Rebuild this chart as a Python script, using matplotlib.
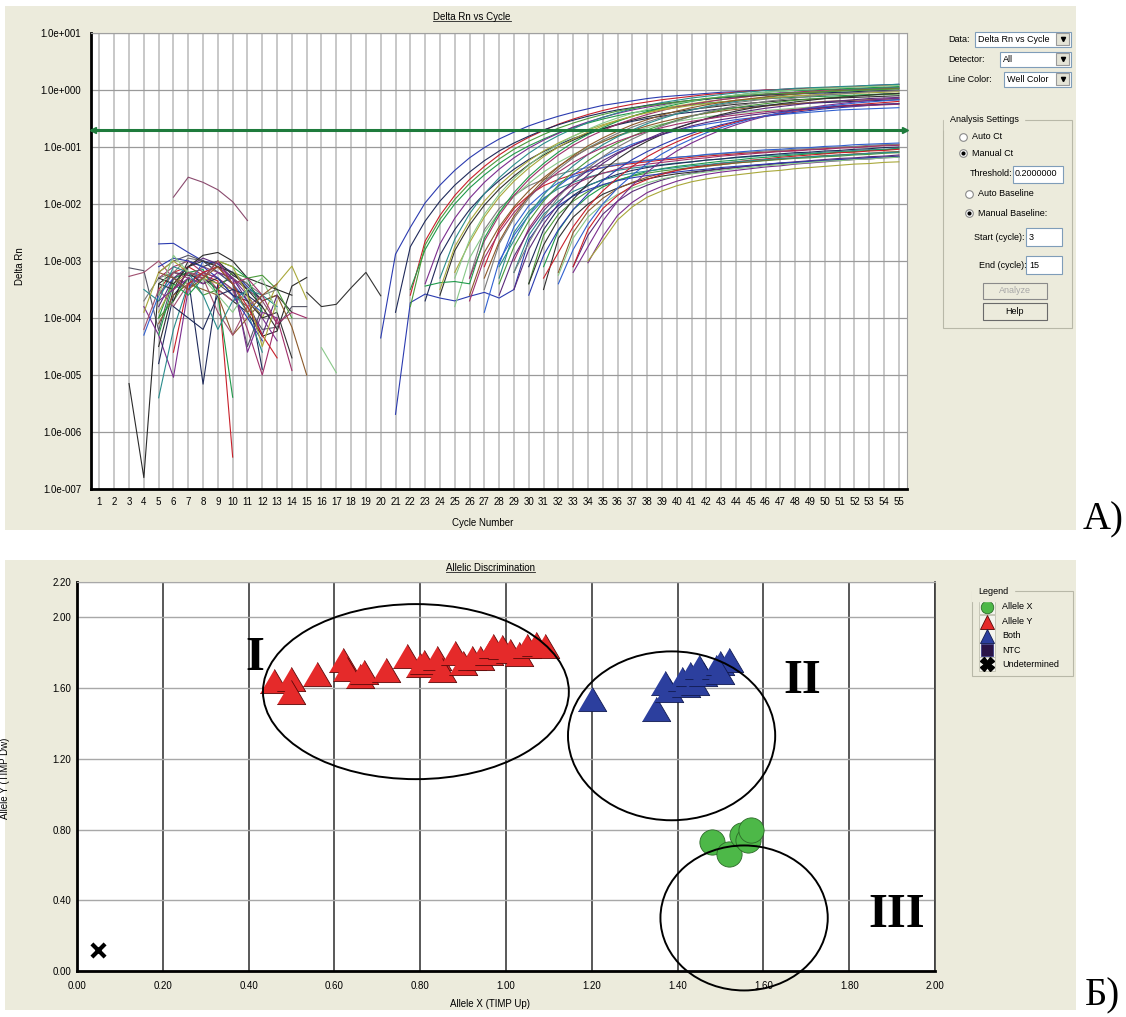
import numpy as np
import matplotlib.pyplot as plt
from matplotlib.patches import Rectangle, Ellipse
from matplotlib.lines import Line2D

plt.rcParams['font.family'] = ['Liberation Sans', 'DejaVu Sans']

W, H = 1126, 1017
BEIGE = '#ecebdc'

# ---------------- panel A: Delta Rn vs Cycle (values are log10 Delta Rn) ----------------
cycles = list(range(1, 56))
decades = [-7, -6, -5, -4, -3, -2, -1, 0, 1]
threshold = 0.2

# baseline noise, (first cycle, log10 values at consecutive cycles)
noise_curves = [
    (3, [-3.12, -3.17, -4.22, -3.3, -3.2, -3.25, -3.4, -3.6, -3.8, -4.2, -4.16, -3.8, -3.8]),
    (3, [-5.15, -6.8, -3.4, -3.2, -3.25, -3.3, -3.5, -3.7, -3.9, -4.32, -4.23, -3.44, -3.29]),
    (3, [-3.27, -3.2, -3.0, -3.3, -3.4, -3.2, -3.5, -3.7, -3.6, -4.0]),
    (6, [-1.88, -1.53, -1.62, -1.75, -1.96, -2.29]),
    (15, [-3.55, -3.8, -3.76, -3.47, -3.2, -3.61]),
    (5, [-2.70, -2.69, -2.85, -3.0, -3.05, -3.2, -3.45, -3.7]),
    (5, [-3.5, -3.2, -3.1, -3.25, -3.35, -6.44]),
    (5, [-4.0, -3.3, -3.2, -3.15, -3.6, -5.39]),
    (4, [-3.8, -4.3, -5.04, -3.5, -3.2, -3.1, -3.3, -3.6, -4.0, -4.4]),
    (5, [-4.8, -3.6, -3.3, -5.16, -3.4, -3.3, -3.5, -4.9]),
    (5, [-5.4, -4.2, -3.4, -3.2, -3.3, -3.5, -3.9, -4.6]),
    (5, [-4.5, -3.5, -3.0, -3.1, -3.0, -3.25, -3.4, -3.7, -3.6, -3.9]),
    (5, [-3.9, -3.4, -3.2, -3.3, -3.4, -3.5, -3.6, -4.0, -3.4, -3.09, -3.67]),
    (16, [-4.52, -4.96]),
    (5, [-3.3, -3.1, -3.0, -3.2, -3.3, -3.5, -4.2, -5.0, -4.0, -4.92]),
    (5, [-4.1, -3.6, -3.4, -3.5, -3.6, -4.3, -4.0, -3.7, -3.6, -4.16, -5.0]),
    (4, [-3.7, -3.3, -3.2, -2.95, -3.0, -3.1, -3.2, -3.4, -3.6, -3.5]),
    (4, [-4.3, -3.6, -3.3, -3.5, -3.0, -3.2, -3.4, -3.7, -3.9]),
    (5, [-4.0, -3.7, -3.3, -3.6, -3.5, -3.2, -3.3, -3.25, -3.5, -4.0]),
    (5, [-3.8, -3.3, -3.1, -2.95, -3.05, -3.3, -3.7, -4.3, -3.6]),
    (5, [-3.2, -3.0, -2.9, -3.0, -3.2, -3.4, -4.5, -3.8]),
    (6, [-3.7, -3.1, -2.9, -2.85, -3.0, -3.3, -3.4, -3.5, -3.6]),
    (4, [-4.2, -3.5, -3.8, -3.4, -3.3, -3.9, -4.3, -3.8, -3.6]),
    (5, [-3.6, -3.2, -3.3, -3.1, -3.2, -3.3, -3.5, -3.7, -4.1]),
    (5, [-3.4, -3.5, -3.2, -3.4, -3.3, -3.6, -3.7, -4.0, -3.9, -4.7]),
    (5, [-3.1, -2.95, -3.0, -3.1, -3.3, -3.6, -4.0, -4.4]),
    (6, [-4.6, -3.4, -3.2, -3.1, -3.4, -3.8, -4.3, -4.7]),
    (5, [-4.3, -3.4, -3.6, -3.3, -3.0, -3.1, -3.3, -3.9]),
    (5, [-3.7, -3.5, -3.3, -3.4, -3.2, -3.3, -4.6, -3.9, -4.0]),
    (6, [-3.8, -4.0, -4.2, -3.6, -3.5, -3.6, -3.8]),
    (4, [-3.5, -3.7, -3.1, -3.2, -3.6, -4.2, -3.7, -3.5, -3.6, -3.8]),
    (5, [-3.3, -3.4, -3.1, -3.0, -3.1, -3.2, -3.5, -3.8, -4.2]),
    (4, [-3.9, -3.2, -3.0, -3.2, -3.3, -3.0, -3.1, -3.6, -4.5, -3.7]),
    (5, [-3.6, -2.9, -3.2, -3.3, -3.6, -3.9, -3.5, -3.3, -3.9]),
    (6, [-3.5, -3.2, -3.3, -3.0, -3.4, -3.3, -3.6, -4.1, -3.9, -4.0]),
    (5, [-3.2, -3.3, -3.5, -3.3, -3.1, -3.4, -3.9, -3.6, -3.4]),
]

# amplification curves with the high plateau
upper_curves = [
    (20, [-4.35, -2.88, -2.41, -1.98, -1.67, -1.41, -1.19, -1.01, -0.86, -0.74, -0.63, -0.54, -0.46, -0.39, -0.33,
          -0.27, -0.23, -0.19, -0.15, -0.12, -0.10, -0.08, -0.06, -0.04, -0.03, -0.01, 0.0, 0.01, 0.02, 0.03,
          0.04, 0.05, 0.06, 0.08, 0.09, 0.10]),
    (22, [-3.6, -2.65, -2.20, -1.85, -1.57, -1.34, -1.14, -0.97, -0.83, -0.71, -0.60, -0.51, -0.43, -0.36, -0.30,
          -0.25, -0.21, -0.17, -0.14, -0.11, -0.08, -0.06, -0.04, -0.02, 0.0, 0.01, 0.02, 0.03, 0.04, 0.05,
          0.06, 0.07, 0.08, 0.09]),
    (22, [-3.5, -2.80, -2.35, -2.00, -1.72, -1.49, -1.29, -1.12, -0.98, -0.86, -0.75, -0.66, -0.58, -0.51, -0.45,
          -0.40, -0.36, -0.32, -0.29, -0.26, -0.23, -0.21, -0.19, -0.17, -0.15, -0.14, -0.13, -0.12, -0.11, -0.10,
          -0.09, -0.08, -0.07, -0.06]),
    (23, [-3.4, -2.70, -2.25, -1.90, -1.62, -1.39, -1.19, -1.02, -0.88, -0.76, -0.65, -0.56, -0.48, -0.41, -0.35,
          -0.30, -0.26, -0.22, -0.19, -0.16, -0.13, -0.11, -0.09, -0.07, -0.05, -0.04, -0.03, -0.02, -0.01, 0.0,
          0.01, 0.02, 0.03]),
    (23, [-3.7, -2.90, -2.45, -2.10, -1.82, -1.59, -1.39, -1.22, -1.08, -0.96, -0.85, -0.76, -0.68, -0.61, -0.55,
          -0.50, -0.46, -0.42, -0.39, -0.36, -0.33, -0.31, -0.29, -0.27, -0.25, -0.24, -0.23, -0.22, -0.21, -0.20,
          -0.19, -0.18, -0.17]),
    (24, [-3.3, -2.62, -2.17, -1.82, -1.54, -1.31, -1.11, -0.94, -0.80, -0.68, -0.57, -0.48, -0.40, -0.33, -0.27,
          -0.22, -0.18, -0.14, -0.11, -0.08, -0.05, -0.03, -0.01, 0.01, 0.03, 0.04, 0.05, 0.06, 0.07, 0.08,
          0.09, 0.10]),
    (24, [-3.6, -2.82, -2.37, -2.02, -1.74, -1.51, -1.31, -1.14, -1.00, -0.88, -0.77, -0.68, -0.60, -0.53, -0.47,
          -0.42, -0.38, -0.34, -0.31, -0.28, -0.25, -0.23, -0.21, -0.19, -0.17, -0.16, -0.15, -0.14, -0.13, -0.12,
          -0.11, -0.10]),
    (25, [-3.2, -2.68, -2.23, -1.88, -1.60, -1.37, -1.17, -1.00, -0.86, -0.74, -0.63, -0.54, -0.46, -0.39, -0.33,
          -0.28, -0.24, -0.20, -0.17, -0.14, -0.11, -0.09, -0.07, -0.05, -0.03, -0.02, -0.01, 0.0, 0.01, 0.02,
          0.03]),
    (25, [-3.8, -2.95, -2.50, -2.15, -1.87, -1.64, -1.44, -1.27, -1.13, -1.01, -0.90, -0.81, -0.73, -0.66, -0.60,
          -0.55, -0.51, -0.47, -0.44, -0.41, -0.38, -0.36, -0.34, -0.32, -0.30, -0.29, -0.28, -0.27, -0.26, -0.25,
          -0.24]),
    (26, [-3.3, -2.65, -2.20, -1.85, -1.57, -1.34, -1.14, -0.97, -0.83, -0.71, -0.60, -0.51, -0.43, -0.36, -0.30,
          -0.25, -0.21, -0.17, -0.14, -0.11, -0.08, -0.06, -0.04, -0.02, 0.0, 0.01, 0.02, 0.03, 0.04, 0.05]),
    (26, [-3.6, -2.85, -2.40, -2.05, -1.77, -1.54, -1.34, -1.17, -1.03, -0.91, -0.80, -0.71, -0.63, -0.56, -0.50,
          -0.45, -0.41, -0.37, -0.34, -0.31, -0.28, -0.26, -0.24, -0.22, -0.20, -0.19, -0.18, -0.17, -0.16, -0.15]),
    (27, [-3.5, -2.70, -2.25, -1.90, -1.62, -1.39, -1.19, -1.02, -0.88, -0.76, -0.65, -0.56, -0.48, -0.41, -0.35,
          -0.30, -0.26, -0.22, -0.19, -0.16, -0.13, -0.11, -0.09, -0.07, -0.05, -0.04, -0.03, -0.02, -0.01]),
    (27, [-3.9, -3.00, -2.55, -2.20, -1.92, -1.69, -1.49, -1.32, -1.18, -1.06, -0.95, -0.86, -0.78, -0.71, -0.65,
          -0.60, -0.56, -0.52, -0.49, -0.46, -0.43, -0.41, -0.39, -0.37, -0.35, -0.34, -0.33, -0.32, -0.31]),
    (28, [-3.4, -2.75, -2.30, -1.95, -1.67, -1.44, -1.24, -1.07, -0.93, -0.81, -0.70, -0.61, -0.53, -0.46, -0.40,
          -0.35, -0.31, -0.27, -0.24, -0.21, -0.18, -0.16, -0.14, -0.12, -0.10, -0.09, -0.08, -0.07]),
    (29, [-3.5, -2.80, -2.35, -2.00, -1.72, -1.49, -1.29, -1.12, -0.98, -0.86, -0.75, -0.66, -0.58, -0.51, -0.45,
          -0.40, -0.36, -0.32, -0.29, -0.26, -0.23, -0.21, -0.19, -0.17, -0.15, -0.14, -0.13]),
    (30, [-3.6, -2.90, -2.45, -2.10, -1.82, -1.59, -1.39, -1.22, -1.08, -0.96, -0.85, -0.76, -0.68, -0.61, -0.55,
          -0.50, -0.46, -0.42, -0.39, -0.36, -0.33, -0.31, -0.29, -0.27, -0.25, -0.24]),
    (31, [-3.3, -2.85, -2.40, -2.05, -1.77, -1.54, -1.34, -1.17, -1.03, -0.91, -0.80, -0.71, -0.63, -0.56, -0.50,
          -0.45, -0.41, -0.37, -0.34, -0.31, -0.28, -0.26, -0.24, -0.22, -0.20]),
    (23, [-3.44, -3.38, -3.36, -3.40, -2.60, -2.15, -1.80, -1.52, -1.29, -1.09, -0.92, -0.78, -0.66, -0.55, -0.46,
          -0.38, -0.31, -0.25, -0.20, -0.16, -0.12, -0.09, -0.06, -0.04, -0.02, -0.01, 0.0, 0.01, 0.02, 0.03,
          0.04, 0.05, 0.06]),
    (33, [-3.2, -2.75, -2.30, -1.95, -1.67, -1.44, -1.24, -1.07, -0.93, -0.81, -0.70, -0.61, -0.53, -0.46, -0.40,
          -0.35, -0.31, -0.27, -0.24, -0.21, -0.18, -0.16, -0.14]),
    (21, [-3.9, -2.75, -2.30, -1.95, -1.67, -1.44, -1.24, -1.07, -0.93, -0.81, -0.70, -0.61, -0.53, -0.46, -0.40,
          -0.35, -0.31, -0.27, -0.24, -0.21, -0.18, -0.16, -0.14, -0.12, -0.10, -0.09, -0.08, -0.07, -0.06, -0.05,
          -0.04, -0.03, -0.02, -0.01, 0.0]),
    (28, [-3.1, -2.64, -2.19, -1.84, -1.56, -1.33, -1.13, -0.96, -0.82, -0.70, -0.59, -0.50, -0.42, -0.35, -0.29,
          -0.24, -0.20, -0.16, -0.13, -0.10, -0.07, -0.05, -0.03, -0.01, 0.01, 0.02, 0.03, 0.04]),
    (30, [-3.4, -2.72, -2.27, -1.92, -1.64, -1.41, -1.21, -1.04, -0.90, -0.78, -0.67, -0.58, -0.50, -0.43, -0.37,
          -0.32, -0.28, -0.24, -0.21, -0.18, -0.15, -0.13, -0.11, -0.09, -0.07, -0.06]),
    (24, [-3.5, -2.75, -2.30, -1.95, -1.67, -1.44, -1.24, -1.07, -0.93, -0.81, -0.70, -0.61, -0.53, -0.46, -0.40,
          -0.35, -0.31, -0.27, -0.24, -0.21, -0.18, -0.16, -0.14, -0.12, -0.10, -0.09, -0.08, -0.07, -0.06, -0.05,
          -0.04, -0.03]),
    (25, [-3.3, -2.63, -2.18, -1.83, -1.55, -1.32, -1.12, -0.95, -0.81, -0.69, -0.58, -0.49, -0.41, -0.34, -0.28,
          -0.23, -0.19, -0.15, -0.12, -0.09, -0.06, -0.04, -0.02, 0.0, 0.02, 0.03, 0.04, 0.05, 0.06, 0.07, 0.08]),
    (26, [-3.7, -2.95, -2.50, -2.15, -1.87, -1.64, -1.44, -1.27, -1.13, -1.01, -0.90, -0.81, -0.73, -0.66, -0.60,
          -0.55, -0.51, -0.47, -0.44, -0.41, -0.38, -0.36, -0.34, -0.32, -0.30, -0.29, -0.28, -0.27, -0.26, -0.25]),
    (27, [-3.3, -2.66, -2.21, -1.86, -1.58, -1.35, -1.15, -0.98, -0.84, -0.72, -0.61, -0.52, -0.44, -0.37, -0.31,
          -0.26, -0.22, -0.18, -0.15, -0.12, -0.09, -0.07, -0.05, -0.03, -0.01, 0.0, 0.01, 0.02, 0.03]),
    (29, [-3.2, -2.68, -2.23, -1.88, -1.60, -1.37, -1.17, -1.00, -0.86, -0.74, -0.63, -0.54, -0.46, -0.39, -0.33,
          -0.28, -0.24, -0.20, -0.17, -0.14, -0.11, -0.09, -0.07, -0.05, -0.03, -0.02, -0.01]),
    (32, [-3.4, -2.80, -2.35, -2.00, -1.72, -1.49, -1.29, -1.12, -0.98, -0.86, -0.75, -0.66, -0.58, -0.51, -0.45,
          -0.40, -0.36, -0.32, -0.29, -0.26, -0.23, -0.21, -0.19, -0.17]),
    (22, [-3.8, -2.72, -2.27, -1.92, -1.64, -1.41, -1.21, -1.04, -0.90, -0.78, -0.67, -0.58, -0.50, -0.43, -0.37,
          -0.32, -0.28, -0.24, -0.21, -0.18, -0.15, -0.13, -0.11, -0.09, -0.07, -0.06, -0.05, -0.04, -0.03, -0.02,
          -0.01, 0.0, 0.01, 0.02]),
    (28, [-3.6, -2.92, -2.47, -2.12, -1.84, -1.61, -1.41, -1.24, -1.10, -0.98, -0.87, -0.78, -0.70, -0.63, -0.57,
          -0.52, -0.48, -0.44, -0.41, -0.38, -0.35, -0.33, -0.31, -0.29, -0.27, -0.26, -0.25, -0.24]),
]

# amplification curves with the low plateau
lower_curves = [
    (27, [-3.10, -2.45, -2.08, -1.85, -1.68, -1.57, -1.48, -1.41, -1.36, -1.32, -1.29, -1.26, -1.23, -1.21, -1.18,
          -1.16, -1.14, -1.12, -1.10, -1.09, -1.07, -1.06, -1.04, -1.03, -1.01, -1.00, -0.99, -0.97, -0.96]),
    (28, [-3.3, -2.50, -2.13, -1.90, -1.73, -1.62, -1.53, -1.46, -1.41, -1.37, -1.34, -1.31, -1.28, -1.26, -1.23,
          -1.21, -1.19, -1.17, -1.15, -1.14, -1.12, -1.11, -1.09, -1.08, -1.06, -1.05, -1.04, -1.02]),
    (29, [-3.0, -2.43, -2.06, -1.83, -1.66, -1.55, -1.46, -1.39, -1.34, -1.30, -1.27, -1.24, -1.21, -1.19, -1.16,
          -1.14, -1.12, -1.10, -1.08, -1.07, -1.05, -1.04, -1.02, -1.01, -0.99, -0.98, -0.97]),
    (30, [-3.4, -2.55, -2.18, -1.95, -1.78, -1.67, -1.58, -1.51, -1.46, -1.42, -1.39, -1.36, -1.33, -1.31, -1.28,
          -1.26, -1.24, -1.22, -1.20, -1.19, -1.17, -1.16, -1.14, -1.13, -1.11, -1.10]),
    (31, [-3.1, -2.47, -2.10, -1.87, -1.70, -1.59, -1.50, -1.43, -1.38, -1.34, -1.31, -1.28, -1.25, -1.23, -1.20,
          -1.18, -1.16, -1.14, -1.12, -1.11, -1.09, -1.08, -1.06, -1.05, -1.03]),
    (31, [-3.5, -2.60, -2.23, -2.00, -1.83, -1.72, -1.63, -1.56, -1.51, -1.47, -1.44, -1.41, -1.38, -1.36, -1.33,
          -1.31, -1.29, -1.27, -1.25, -1.24, -1.22, -1.21, -1.19, -1.18, -1.16]),
    (32, [-3.2, -2.50, -2.13, -1.90, -1.73, -1.62, -1.53, -1.46, -1.41, -1.37, -1.34, -1.31, -1.28, -1.26, -1.23,
          -1.21, -1.19, -1.17, -1.15, -1.14, -1.12, -1.11, -1.09, -1.08]),
    (33, [-3.1, -2.55, -2.18, -1.95, -1.78, -1.67, -1.58, -1.51, -1.46, -1.42, -1.39, -1.36, -1.33, -1.31, -1.28,
          -1.26, -1.24, -1.22, -1.20, -1.19, -1.17, -1.16, -1.14]),
    (34, [-3.03, -2.57, -2.20, -1.97, -1.80, -1.69, -1.60, -1.53, -1.48, -1.44, -1.41, -1.38, -1.35, -1.33, -1.30,
          -1.28, -1.26, -1.24, -1.22, -1.21, -1.19, -1.18]),
    (34, [-3.0, -2.65, -2.28, -2.05, -1.88, -1.77, -1.68, -1.61, -1.56, -1.52, -1.49, -1.46, -1.43, -1.41, -1.38,
          -1.36, -1.34, -1.32, -1.30, -1.29, -1.27, -1.26]),
    (26, [-3.3, -2.45, -2.08, -1.85, -1.68, -1.57, -1.48, -1.41, -1.36, -1.32, -1.29, -1.26, -1.23, -1.21, -1.18,
          -1.16, -1.14, -1.12, -1.10, -1.09, -1.07, -1.06, -1.04, -1.03, -1.01, -1.00, -0.99, -0.97, -0.96, -0.95]),
    (21, [-5.69, -3.73, -3.58, -3.65, -3.70, -3.62, -3.55, -3.65, -3.5, -2.63, -2.26, -2.03, -1.86, -1.75, -1.66,
          -1.59, -1.54, -1.50, -1.47, -1.44, -1.41, -1.39, -1.36, -1.34, -1.32, -1.30, -1.28, -1.27, -1.25, -1.24,
          -1.22, -1.21, -1.19, -1.18, -1.17]),
    (30, [-3.10, -2.45, -2.08, -1.85, -1.68, -1.57, -1.48, -1.41, -1.36, -1.32, -1.29, -1.26, -1.23, -1.21, -1.18,
          -1.16, -1.14, -1.12, -1.10, -1.09, -1.07, -1.06, -1.04, -1.03, -1.01, -1.00]),
    (32, [-3.25, -2.60, -2.23, -2.00, -1.83, -1.72, -1.63, -1.56, -1.51, -1.47, -1.44, -1.41, -1.38, -1.36, -1.33,
          -1.31, -1.29, -1.27, -1.25, -1.24, -1.22, -1.21, -1.19, -1.18]),
    (28, [-3.05, -2.40, -2.03, -1.80, -1.63, -1.52, -1.43, -1.36, -1.31, -1.27, -1.24, -1.21, -1.18, -1.16, -1.13,
          -1.11, -1.09, -1.07, -1.05, -1.04, -1.02, -1.01, -0.99, -0.98, -0.96, -0.95, -0.94, -0.93]),
    (33, [-3.1, -2.45, -2.08, -1.85, -1.68, -1.57, -1.48, -1.41, -1.36, -1.32, -1.29, -1.26, -1.23, -1.21, -1.18,
          -1.16, -1.14, -1.12, -1.10, -1.09, -1.07, -1.06, -1.04]),
    (29, [-3.2, -2.55, -2.18, -1.95, -1.78, -1.67, -1.58, -1.51, -1.46, -1.42, -1.39, -1.36, -1.33, -1.31, -1.28,
          -1.26, -1.24, -1.22, -1.20, -1.19, -1.17, -1.16, -1.14, -1.13, -1.11, -1.10, -1.09]),
]

well_colors = ['#2b3bb0', '#c8202a', '#1f9a4a', '#7b2d8e', '#1f2a5a', '#2a8c8c', '#303030', '#a9a83a',
               '#88c888', '#a0306a', '#8b5a2b', '#7a7a7a', '#3060d0', '#4a9a3a', '#5a2a7a']
noise_colors = ['#555566', '#2a2a2a', '#a05070', '#8a4a6e', '#333333'] + well_colors

# ---------------- panel B: Allelic Discrimination ----------------
allele_y_x = [0.46, 0.50, 0.50, 0.56, 0.62, 0.63, 0.66, 0.67, 0.72, 0.77, 0.80, 0.81, 0.84, 0.85, 0.88,
              0.90, 0.92, 0.94, 0.96, 0.97, 0.99, 1.01, 1.03, 1.05, 1.07, 1.09]
allele_y_y = [1.64, 1.65, 1.58, 1.68, 1.76, 1.71, 1.67, 1.69, 1.70, 1.78, 1.73, 1.75, 1.77, 1.70, 1.80,
              1.74, 1.77, 1.77, 1.80, 1.84, 1.83, 1.81, 1.79, 1.84, 1.85, 1.84]
both_x = [1.20, 1.35, 1.37, 1.38, 1.41, 1.42, 1.43, 1.44, 1.45, 1.46, 1.49, 1.50, 1.52, 1.50]
both_y = [1.54, 1.48, 1.63, 1.59, 1.65, 1.62, 1.68, 1.63, 1.72, 1.68, 1.72, 1.74, 1.76, 1.69]
allele_x_x = [1.48, 1.52, 1.55, 1.565, 1.57]
allele_x_y = [0.73, 0.66, 0.77, 0.74, 0.80]
undet_x = [0.05]
undet_y = [0.12]
legend_labels = ['Allele X', 'Allele Y', 'Both', 'NTC', 'Undetermined']

fig = plt.figure(figsize=(W / 100, H / 100), dpi=100)


def fx(x):
    return x / W


def fy(y):
    return 1 - y / H


def rect(x0, y0, x1, y1, fc='white', ec='#7f9db9', lw=0.8, z=1):
    fig.add_artist(Rectangle((fx(x0), fy(y1)), (x1 - x0) / W, (y1 - y0) / H,
                             transform=fig.transFigure, fc=fc, ec=ec, lw=lw, zorder=z))


def txt(x, y, s, size=6.5, **kw):
    return fig.text(fx(x), fy(y), s, fontsize=size, va='center', **kw)


def mark(x, y, **kw):
    fig.add_artist(Line2D([fx(x)], [fy(y)], transform=fig.transFigure, ls='none', **kw))


def combo(y, x0, label, value):
    txt(948, y, label)
    rect(x0, y - 7.5, 1071, y + 7.5)
    txt(x0 + 3, y, value)
    rect(1056, y - 6, 1069, y + 6, fc='#e4e3d6', ec='#9a9a9a')
    mark(1062.5, y, marker='v', ms=3, color='black')


# beige panels
rect(5, 6, 1076, 530, fc=BEIGE, ec='none', z=0)
rect(5, 560, 1076, 1010, fc=BEIGE, ec='none', z=0)

# ---------------- top axes ----------------
ax1 = fig.add_axes([fx(91), fy(489), (907 - 91) / W, (489 - 33) / H])
ax1.set_yscale('log')
ax1.set_ylim(10.0 ** decades[0], 10.0 ** decades[-1])
ax1.set_xlim(0.43, 55.55)
ax1.set_xticks(cycles)
ax1.set_xticklabels([str(c) for c in cycles])
ax1.set_yticks([10.0 ** d for d in decades])
ax1.set_yticklabels(['1.0e%+04d' % d for d in decades])
ax1.yaxis.set_minor_locator(plt.NullLocator())
ax1.tick_params(length=0, labelsize=7)
ax1.tick_params(axis='x', pad=6)
ax1.tick_params(axis='y', pad=7)
ax1.xaxis.grid(True, color='#c4c4c4', lw=1.3)
ax1.yaxis.grid(True, color='#9a9a9a', lw=0.9)
ax1.set_axisbelow(True)
for s in ('left', 'bottom'):
    ax1.spines[s].set_linewidth(2)
    ax1.spines[s].set_color('black')
for s in ('top', 'right'):
    ax1.spines[s].set_linewidth(0.8)
    ax1.spines[s].set_color('#a0a0a0')

for i, (start, vals) in enumerate(noise_curves):
    ax1.plot(np.arange(start, start + len(vals)), 10.0 ** np.array(vals),
             color=noise_colors[i % len(noise_colors)], lw=0.8)
for i, (start, vals) in enumerate(lower_curves):
    ax1.plot(np.arange(start, start + len(vals)), 10.0 ** np.array(vals),
             color=well_colors[(i * 4 + 1) % len(well_colors)], lw=0.8)
for i, (start, vals) in enumerate(upper_curves):
    ax1.plot(np.arange(start, start + len(vals)), 10.0 ** np.array(vals),
             color=well_colors[i % len(well_colors)], lw=0.8)

ax1.axhline(threshold, color='#1e7b3c', lw=2.2, zorder=5)
x0, x1 = ax1.get_xlim()
ax1.plot([x0 + 0.15], [threshold], marker='<', ms=4, color='#1e7b3c', clip_on=False, zorder=6)
ax1.plot([x1 - 0.15], [threshold], marker='>', ms=4, color='#1e7b3c', clip_on=False, zorder=6)

t_top = txt(472, 17, 'Delta Rn vs Cycle', size=7, ha='center')
txt(20, 266, 'Delta Rn', size=7, ha='center', rotation=90)
txt(483, 523, 'Cycle Number', size=7, ha='center')

# right-hand controls
combo(39, 975, 'Data:', 'Delta Rn vs Cycle')
combo(59, 1000, 'Detector:', 'All')
combo(79, 1004, 'Line Color:', 'Well Color')

rect(943, 120, 1072, 328, fc='none', ec='#b8b8a8', lw=0.8)
txt(950, 120, 'Analysis Settings', backgroundcolor=BEIGE)
for (rx, ry, lab, on) in [(963, 137, 'Auto Ct', False), (963, 153, 'Manual Ct', True),
                          (969, 194, 'Auto Baseline', False), (969, 213, 'Manual Baseline:', True)]:
    mark(rx, ry, marker='o', ms=5.5, mfc='white', mec='#8a8a8a', mew=0.8)
    if on:
        mark(rx, ry, marker='o', ms=2, color='black')
    txt(rx + 9, ry, lab)
txt(970, 174, 'Threshold:')
rect(1013, 166, 1063, 183)
txt(1015, 174, '0.2000000')
txt(974, 237, 'Start (cycle):')
rect(1026, 228, 1062, 246)
txt(1029, 237, '3')
txt(979, 265, 'End (cycle):')
rect(1026, 256, 1062, 274)
txt(1029, 265, '15')
rect(983, 283, 1047, 299, fc=BEIGE, ec='#8a8a8a')
txt(1015, 291, 'Analyze', ha='center', color='#a8a8a8')
rect(983, 303, 1047, 320, fc=BEIGE, ec='#6a6a6a')
txt(1015, 311.5, 'Help', ha='center')

# ---------------- bottom axes ----------------
ax2 = fig.add_axes([fx(77), fy(971), (935 - 77) / W, (971 - 582) / H])
ax2.set_xlim(0, 2.0)
ax2.set_ylim(0, 2.2)
xt = [round(0.2 * i, 2) for i in range(11)]
yt = [0.0, 0.4, 0.8, 1.2, 1.6, 2.0, 2.2]
ax2.set_xticks(xt)
ax2.set_xticklabels(['%.2f' % v for v in xt])
ax2.set_yticks(yt)
ax2.set_yticklabels(['%.2f' % v for v in yt])
ax2.tick_params(length=0, labelsize=7)
ax2.tick_params(axis='x', pad=7)
ax2.tick_params(axis='y', pad=4)
ax2.xaxis.grid(True, color='#3c3c3c', lw=1.2)
ax2.yaxis.grid(True, color='#a8a8a8', lw=1.0)
ax2.set_axisbelow(True)
for s in ('left', 'bottom'):
    ax2.spines[s].set_linewidth(2)
    ax2.spines[s].set_color('black')
ax2.spines['right'].set_linewidth(1.2)
ax2.spines['right'].set_color('#3c3c3c')
ax2.spines['top'].set_linewidth(0.8)
ax2.spines['top'].set_color('#a8a8a8')

tri = [(-1, -0.85), (1, -0.85), (0, 0.85)]
ax2.scatter(allele_y_x, allele_y_y, marker=tri, s=420, facecolor='#e52a2a', edgecolor='#5a0808',
            linewidths=0.6, zorder=3)
ax2.scatter(both_x, both_y, marker=tri, s=420, facecolor='#2c3f9e', edgecolor='#101a50',
            linewidths=0.6, zorder=3)
ax2.scatter(allele_x_x, allele_x_y, marker='o', s=330, facecolor='#4db848', edgecolor='#2c6a28',
            linewidths=0.6, zorder=3)
ax2.scatter(undet_x, undet_y, marker='x', s=90, color='black', linewidths=3, zorder=3)

for (cx, cy, ew, eh) in [(0.79, 1.58, 0.713, 0.99), (1.386, 1.33, 0.483, 0.955), (1.555, 0.30, 0.39, 0.82)]:
    ax2.add_patch(Ellipse((cx, cy), ew, eh, fill=False, ec='black', lw=1.4, zorder=6, clip_on=False))

roman = dict(family=['Liberation Serif', 'DejaVu Serif'], fontweight='bold', fontsize=35,
             ha='center', va='baseline', zorder=7)
ax2.text(0.415, 1.70, 'I', **roman)
ax2.text(1.69, 1.575, 'II', **roman)
ax2.text(1.91, 0.25, 'III', **roman)

t_bot = txt(490, 568, 'Allelic Discrimination', size=7, ha='center')
txt(490, 1004, 'Allele X (TIMP Up)', size=7, ha='center')
txt(5, 778, 'Allele Y (TIMP Dw)', size=7, ha='center', rotation=90)

# legend group
rect(972, 591, 1073, 676, fc='none', ec='#b8b8a8', lw=0.8)
txt(978, 591, 'Legend', backgroundcolor=BEIGE)
leg_y = [606.7, 621.7, 636, 650.3, 664.3]
for yy, lab in zip(leg_y, legend_labels):
    rect(979, yy - 7, 995, yy + 7, fc='#f4f4ee', ec='#c0c0b0', lw=0.6)
    txt(1002, yy, lab)
mark(987, leg_y[0], marker='o', ms=9, mfc='#4db848', mec='#2c6a28', mew=0.6)
mark(987, leg_y[1], marker='^', ms=10, mfc='#e52a2a', mec='#5a0808', mew=0.6)
mark(987, leg_y[2], marker='^', ms=10, mfc='#2c3f9e', mec='#101a50', mew=0.6)
mark(987, leg_y[3], marker='s', ms=9, mfc='#2a1446', mec='#3a3a80', mew=0.6)
mark(987, leg_y[4], marker='X', ms=10, color='black')

# panel letters
letter = dict(family=['Liberation Serif', 'DejaVu Serif'], fontsize=28, ha='center', va='baseline')
fig.text(fx(1103), fy(529), 'А)', **letter)
fig.text(fx(1103), fy(1005), 'Б)', **letter)

# underline the two titles
fig.canvas.draw()
rend = fig.canvas.get_renderer()
for t in (t_top, t_bot):
    bb = t.get_window_extent(rend).transformed(fig.transFigure.inverted())
    fig.add_artist(Line2D([bb.x0, bb.x1], [bb.y0 + 0.001, bb.y0 + 0.001], transform=fig.transFigure,
                          color='#202020', lw=0.6))

fig.savefig('out.png', dpi=100)
